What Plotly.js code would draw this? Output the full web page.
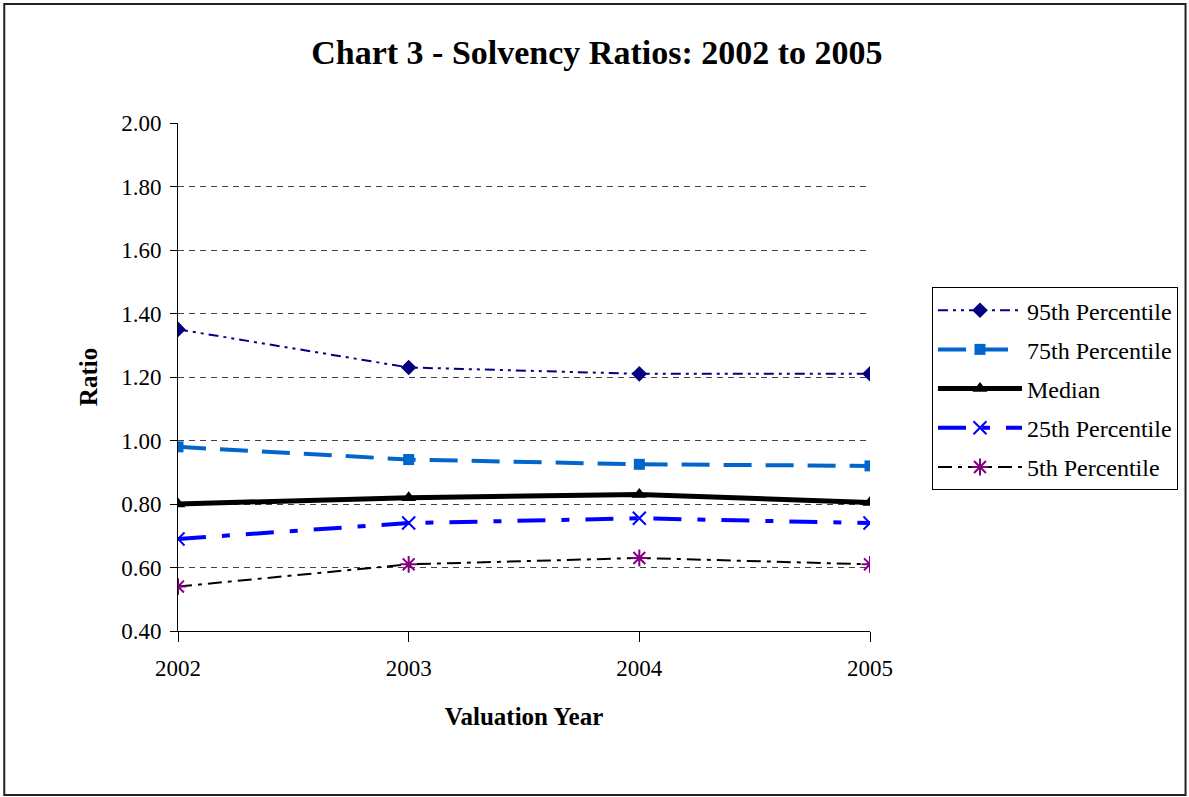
<!DOCTYPE html>
<html>
<head>
<meta charset="utf-8">
<script src="https://cdn.plot.ly/plotly-3.0.1.min.js"></script>
<style>html,body{margin:0;padding:0;background:#fff;}#chart{width:1189px;height:797px;}</style>
</head>
<body>
<div id="chart"></div>
<script>
const years = [2002, 2003, 2004, 2005];
const seriesNames = ["95th Percentile", "75th Percentile", "Median", "25th Percentile", "5th Percentile"];
const p95 = [1.35, 1.23, 1.21, 1.21];
const p75 = [0.98, 0.94, 0.925, 0.92];
const median = [0.80, 0.82, 0.83, 0.805];
const p25 = [0.69, 0.74, 0.755, 0.74];
const p5 = [0.54, 0.61, 0.63, 0.61];
const yTicks = [0.4, 0.6, 0.8, 1.0, 1.2, 1.4, 1.6, 1.8, 2.0];

const serif = "Liberation Serif, Times New Roman, serif";

const traces = [
  {x: years, y: p95, name: seriesNames[0], mode: "lines+markers", legendgroup: "a",
   line: {color: "#000080", width: 2, dash: "10px,5px,3px,5px,3px,5px"},
   marker: {symbol: "diamond", size: 12, color: "#000080"}},
  {x: years, y: p75, name: seriesNames[1], mode: "lines+markers", legendgroup: "b",
   line: {color: "#0066CC", width: 4, dash: "28px,14px"},
   marker: {symbol: "square", size: 11, color: "#0066CC"}},
  {x: years, y: median, name: seriesNames[2], mode: "lines+markers", legendgroup: "c",
   line: {color: "#000000", width: 5},
   marker: {symbol: "triangle-up", size: 13, color: "#000000"}},
  {x: years, y: p25, name: seriesNames[3], mode: "lines+markers", legendgroup: "d",
   line: {color: "#0000FF", width: 4, dash: "28px,16px,8px,16px"},
   marker: {symbol: "x-thin-open", size: 13, color: "#0000FF", line: {color: "#0000FF", width: 2}}},
  {x: years, y: p5, name: seriesNames[4], mode: "lines+markers", legendgroup: "e",
   line: {color: "#000000", width: 2, dash: "14px,6px,4px,6px"},
   marker: {symbol: "asterisk-open", size: 14, color: "#800080", line: {color: "#800080", width: 2}}}
];

const layout = {
  width: 1189, height: 797,
  margin: {l: 178, r: 318, t: 123, b: 166},
  paper_bgcolor: "#ffffff", plot_bgcolor: "#ffffff",
  font: {family: serif, color: "#000", size: 23},
  title: {text: "<b>Chart 3 - Solvency Ratios: 2002 to 2005</b>", font: {family: serif, size: 34, color: "#000"},
          x: 0.502, xanchor: "center", y: 0.935, yanchor: "middle"},
  xaxis: {
    range: [2002, 2005], tickvals: years, ticktext: years.map(String),
    showgrid: false, zeroline: false, showline: true, linecolor: "#000", linewidth: 1,
    ticks: "outside", ticklen: 10, tickcolor: "#000", tickfont: {family: serif, size: 23},
    ticklabelstandoff: 6,
    title: {text: "<b>Valuation Year</b>", font: {family: serif, size: 25}, standoff: 27}
  },
  yaxis: {
    range: [0.4, 2.0], tickvals: yTicks, ticktext: yTicks.map(v => v.toFixed(2)),
    showgrid: true, gridcolor: "#444", griddash: "6px,5px", gridwidth: 1,
    zeroline: false, showline: true, linecolor: "#000", linewidth: 1,
    ticks: "outside", ticklen: 7, tickcolor: "#000", tickfont: {family: serif, size: 23},
    ticklabelstandoff: 4,
    title: {text: "<b>Ratio</b>", font: {family: serif, size: 25}, standoff: 16}
  },
  showlegend: true,
  legend: {
    x: 1.088, xanchor: "left", y: 0.677, yanchor: "top",
    bordercolor: "#000", borderwidth: 1, bgcolor: "#fff",
    font: {family: serif, size: 24}, traceorder: "grouped", tracegroupgap: 5,
    itemwidth: 84
  },
  shapes: [
    {type: "rect", xref: "paper", yref: "paper",
     x0: -174/693, x1: (1187 - 178)/693, y0: -(795 - 631)/508, y1: (631 - 4)/508,
     line: {color: "#222", width: 2}, fillcolor: "rgba(0,0,0,0)", layer: "below"}
  ]
};

Plotly.newPlot("chart", traces, layout, {displayModeBar: false, staticPlot: true});
</script>
</body>
</html>
